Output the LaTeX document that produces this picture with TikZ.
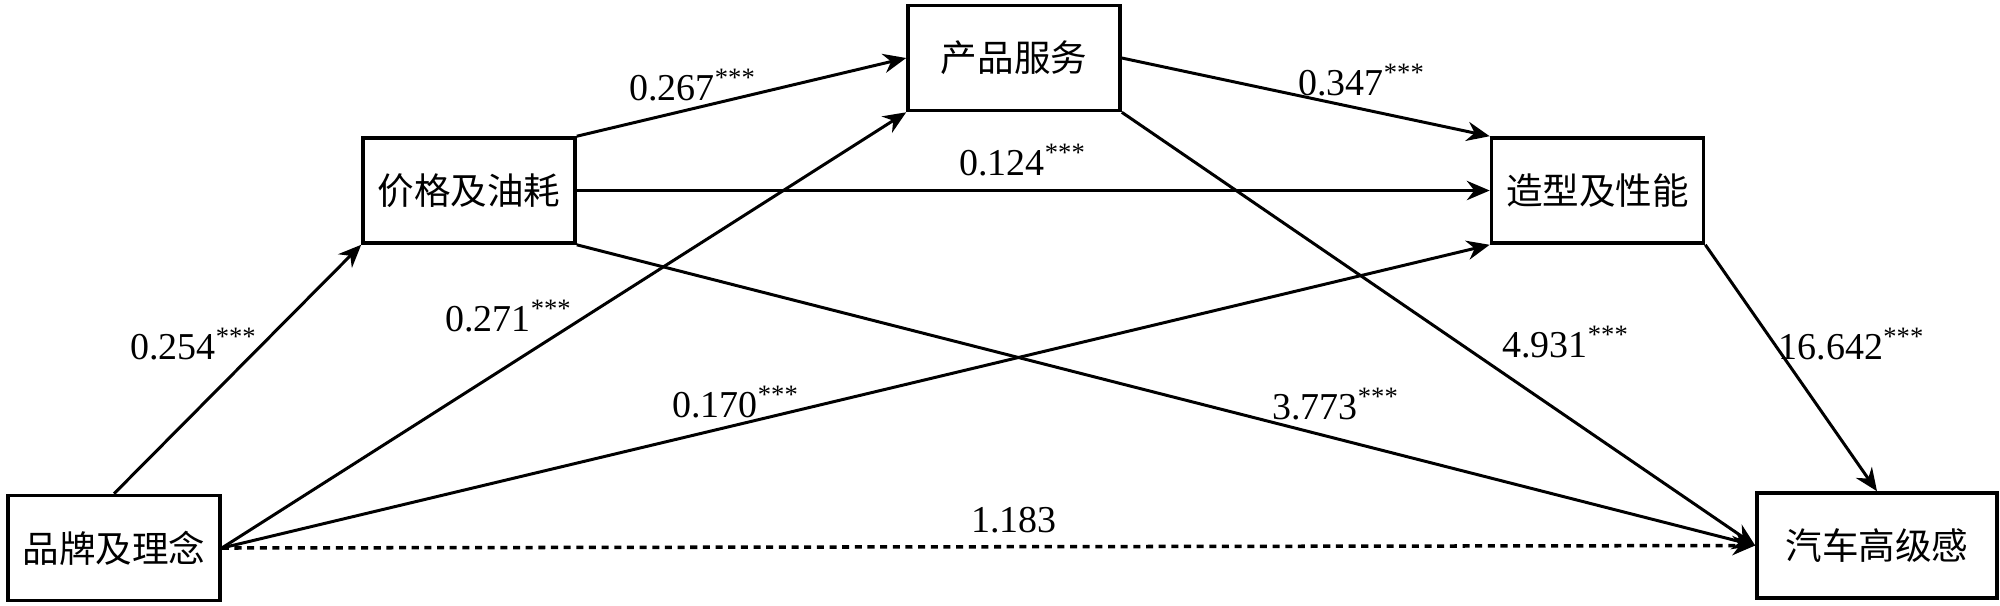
\documentclass[tikz,border=0pt]{standalone}
\usepackage{fontspec}
\setmainfont{Liberation Serif}
\newfontfamily\cjk{Noto Sans CJK SC}
\usetikzlibrary{arrows.meta}
\tikzset{
  box/.style={draw, line width=1pt, inner sep=0pt, minimum width=2.12cm, minimum height=1.05cm, font=\cjk\fontsize{10.4pt}{12pt}\selectfont},
  conn/.style={line width=0.85pt, -{Stealth[length=6.5pt,width=5.5pt]}},
  lab/.style={font=\fontsize{10.8pt}{12pt}\selectfont, inner sep=0pt}
}
\newcommand{\sig}[1]{#1\textsuperscript{***}}
\begin{document}
\begin{tikzpicture}[x=0.01cm,y=-0.01cm]
\useasboundingbox (0,0) rectangle (2000,605);
\node[box] (pp) at (114,548) {品牌及理念};
\node[box] (jg) at (469,190.5) {价格及油耗};
\node[box] (cp) at (1014,58) {产品服务};
\node[box] (zx) at (1597.5,190.5) {造型及性能};
\node[box, minimum width=2.4cm] (qc) at (1877,545.5) {汽车高级感};

\draw[conn] (pp.north) -- (jg.south west);
\draw[conn] (pp.east) -- (cp.south west);
\draw[conn] (pp.east) -- (zx.south west);
\draw[conn, line width=1pt, dash pattern=on 2pt off 1.6pt] (pp.east) -- (qc.west);
\draw[conn] (jg.north east) -- (cp.west);
\draw[conn] (jg.east) -- (zx.west);
\draw[conn] (jg.south east) -- (qc.west);
\draw[conn] (cp.east) -- (zx.north west);
\draw[conn] (cp.south east) -- (qc.west);
\draw[conn] (zx.south east) -- (qc.north);

\node[lab] (l1) at (693,85) {\sig{0.267}};
\node[lab] (l2) at (1362,80) {\sig{0.347}};
\node[lab] (l3) at (1023,160) {\sig{0.124}};
\node[lab] (l4) at (194,344) {\sig{0.254}};
\node[lab] (l5) at (509,316) {\sig{0.271}};
\node[lab] (l6) at (736,402) {\sig{0.170}};
\node[lab] (l7) at (1566,342) {\sig{4.931}};
\node[lab] (l8) at (1336,404) {\sig{3.773}};
\node[lab] (l9) at (1852,344) {\sig{16.642}};
\node[lab] (l10) at (1014,520) {1.183};
\end{tikzpicture}
\end{document}
